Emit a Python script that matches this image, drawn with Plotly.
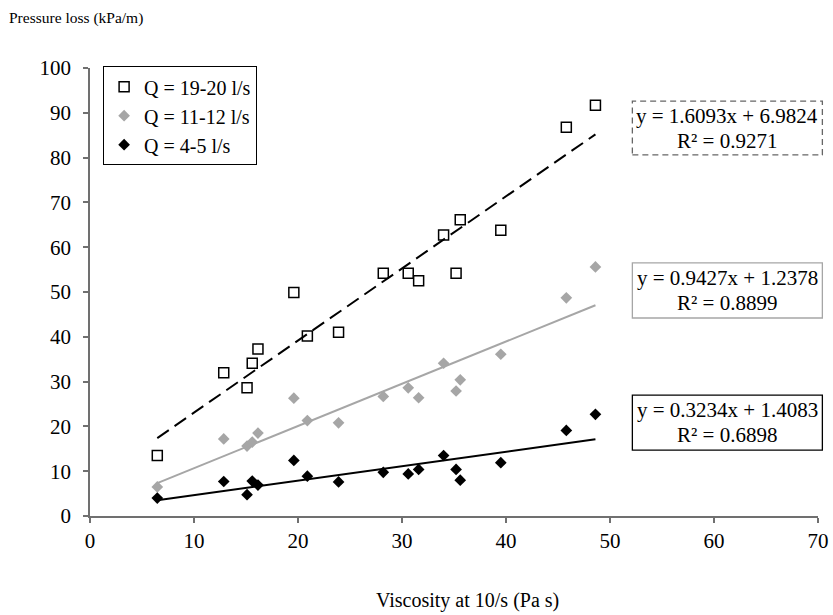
import plotly.graph_objects as go

# Data
viscosity = [6.47, 12.86, 15.1, 15.6, 16.15, 19.6, 20.9, 23.9, 28.2, 30.6, 31.6, 34.0, 35.2, 35.6, 39.5, 45.8, 48.6]
q_19_20 = [13.5, 32.0, 28.6, 34.1, 37.3, 49.9, 40.2, 41.0, 54.2, 54.2, 52.5, 62.7, 54.2, 66.1, 63.8, 86.8, 91.7]
q_11_12 = [6.5, 17.2, 15.6, 16.5, 18.5, 26.3, 21.3, 20.8, 26.7, 28.6, 26.4, 34.1, 27.9, 30.4, 36.1, 48.7, 55.6]
q_4_5 = [4.0, 7.7, 4.75, 7.8, 6.9, 12.4, 8.9, 7.6, 9.75, 9.4, 10.4, 13.5, 10.4, 8.0, 11.9, 19.1, 22.7]

series_names = ["Q = 19-20 l/s", "Q = 11-12 l/s", "Q = 4-5 l/s"]
slopes = [1.6093, 0.9427, 0.3234]
intercepts = [6.9824, 1.2378, 1.4083]
r2 = [0.9271, 0.8899, 0.6898]

x_ticks = [0, 10, 20, 30, 40, 50, 60, 70]
y_ticks = [0, 10, 20, 30, 40, 50, 60, 70, 80, 90, 100]

FONT = "Liberation Serif"
PLOT_H = 448.0  # plot area height in px
fig = go.Figure()

xmin, xmax = min(viscosity), max(viscosity)
line_styles = [dict(color="black", width=2, dash="14px,7px"),
               dict(color="#A6A6A6", width=2),
               dict(color="black", width=2)]
for m, b, ls in zip(slopes, intercepts, line_styles):
    fig.add_trace(go.Scatter(x=[xmin, xmax], y=[m * xmin + b, m * xmax + b], mode="lines",
                             line=ls, showlegend=False, hoverinfo="skip"))

fig.add_trace(go.Scatter(x=viscosity, y=q_19_20, mode="markers", name=series_names[0],
                         marker=dict(symbol="square-open", size=10, color="black", line=dict(width=1.5))))
fig.add_trace(go.Scatter(x=viscosity, y=q_11_12, mode="markers", name=series_names[1],
                         marker=dict(symbol="diamond", size=9, color="#A6A6A6")))
fig.add_trace(go.Scatter(x=viscosity, y=q_4_5, mode="markers", name=series_names[2],
                         marker=dict(symbol="diamond", size=9, color="black")))

# Equation boxes
box_y = [(0.806, 0.926), (0.442, 0.565), (0.147, 0.270)]
box_style = [dict(color="#666666", width=1.3, dash="6px,4px"),
             dict(color="#A6A6A6", width=1.3),
             dict(color="black", width=1.3)]
for (y0, y1), m, b, r, st in zip(box_y, slopes, intercepts, r2, box_style):
    fig.add_shape(type="rect", xref="paper", yref="paper", x0=0.745, x1=1.006, y0=y0, y1=y1,
                  line=st, fillcolor="white", layer="below")
    yc = (y0 + y1) / 2
    for txt, dy in ((f"y = {m:.4f}x + {b:.4f}", 12.5), (f"R² = {r:.4f}", -12.5)):
        fig.add_annotation(xref="paper", yref="paper", x=0.8755, y=yc + dy / PLOT_H,
                           text=txt, showarrow=False,
                           font=dict(family=FONT, size=21, color="black"), align="center",
                           xanchor="center", yanchor="middle")

fig.add_annotation(xref="paper", yref="paper", x=-0.114, y=1.112, xanchor="left", yanchor="middle",
                   text="Pressure loss (kPa/m)", showarrow=False,
                   font=dict(family=FONT, size=15.5, color="black"))
fig.add_annotation(xref="paper", yref="paper", x=0.518, y=-0.188, xanchor="center", yanchor="middle",
                   text="Viscosity at 10/s (Pa s)", showarrow=False,
                   font=dict(family=FONT, size=20, color="black"))

fig.update_layout(
    width=833, height=615,
    margin=dict(l=90, r=15, t=68, b=99, autoexpand=False),
    plot_bgcolor="white", paper_bgcolor="white",
    font=dict(family=FONT, size=20, color="black"),
    legend=dict(x=0.018, y=1.004, xanchor="left", yanchor="top",
                bordercolor="black", borderwidth=1, bgcolor="white",
                font=dict(family=FONT, size=20), itemwidth=30, tracegroupgap=0),
    xaxis=dict(range=[0, 70], tickvals=x_ticks, showgrid=False, zeroline=False,
               showline=True, linecolor="#707070", linewidth=1.5,
               ticks="outside", ticklen=5, tickcolor="#707070", tickwidth=1.5,
               ticklabelstandoff=0, tickfont=dict(family=FONT, size=21)),
    yaxis=dict(range=[0, 100], tickvals=y_ticks, showgrid=False, zeroline=False,
               showline=True, linecolor="#707070", linewidth=1.5,
               ticks="outside", ticklen=5, tickcolor="#707070", tickwidth=1.5,
               ticklabelstandoff=8, tickfont=dict(family=FONT, size=21)),
)

fig.write_html("out.html", post_script="document.body.style.margin='0';",
               config={"displayModeBar": False})
